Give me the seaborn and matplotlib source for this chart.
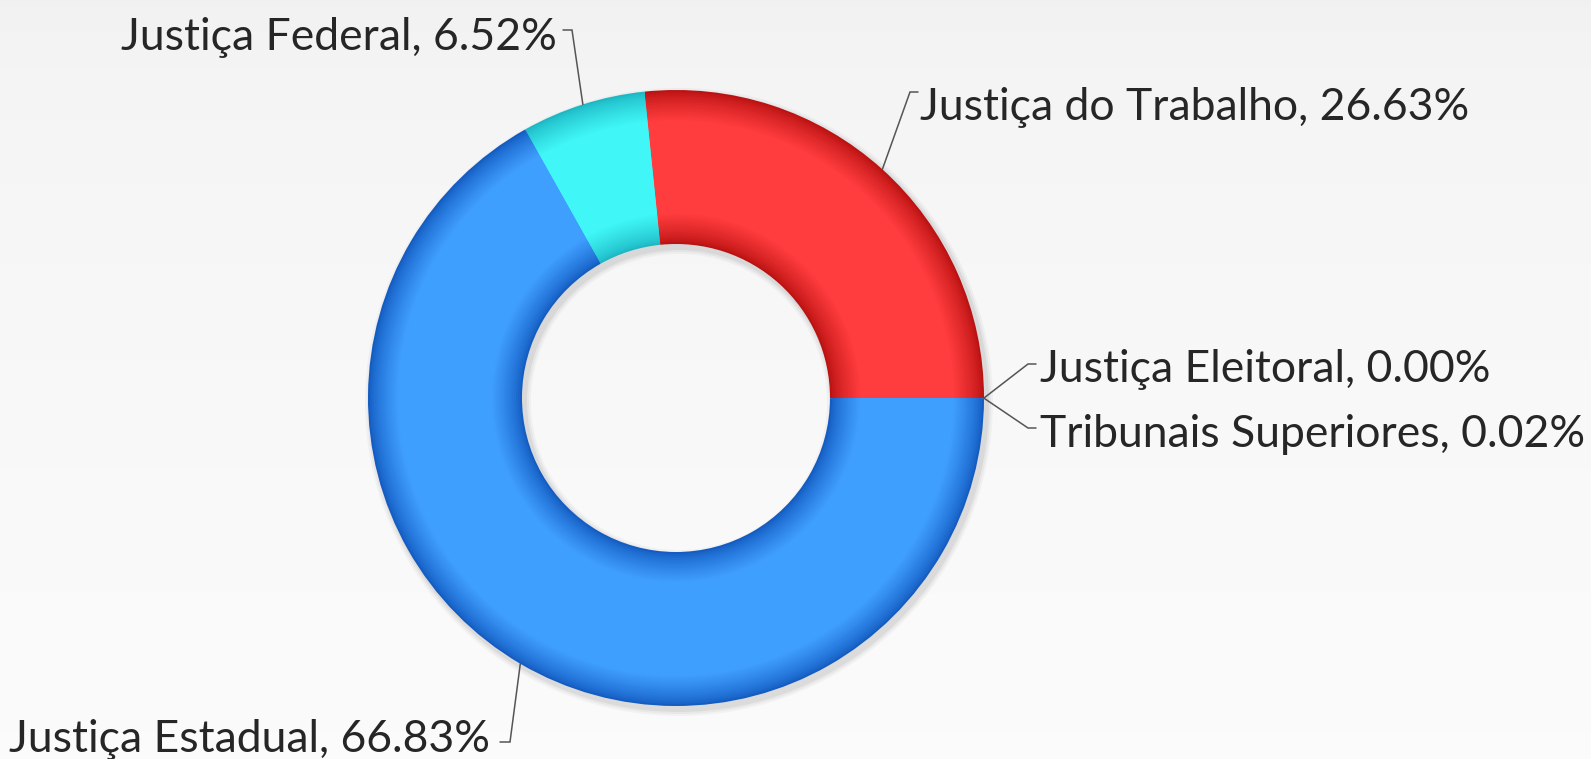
import numpy as np
import seaborn as sns
import matplotlib
matplotlib.use("Agg")
import matplotlib.pyplot as plt
from matplotlib.colors import to_rgb

sns.set_theme(style="white")
plt.rcParams['font.family'] = ['Lato', 'DejaVu Sans']

# data (shares in %, counter-clockwise from 3 o'clock)
labels = ["Justiça Eleitoral", "Justiça do Trabalho", "Justiça Federal",
          "Justiça Estadual", "Tribunais Superiores"]
shares = [0.00, 26.63, 6.52, 66.83, 0.02]

# style
light = ["#8a8a8a", "#ff3c3e", "#40f6f6", "#3f9fff", "#3f9fff"]
dark = ["#5a5a5a", "#bb1212", "#1db8c4", "#145cc2", "#145cc2"]

# layout, in pixels (y down)
W_PX, H_PX = 1591, 759
cx, cy = 676, 398
R_OUT, WIDTH = 308, 154

# text position, alignment, elbow of leader line, end of short tick
label_layout = [
    dict(txt=(1040, 382), ha="left", elbow=(1028, 364), tick=(1036, 364)),
    dict(txt=(920, 120), ha="left", elbow=(910, 92), tick=(918, 92)),
    dict(txt=(557, 50), ha="right", elbow=(572, 30), tick=(563, 30)),
    dict(txt=(490, 752), ha="right", elbow=(510, 742), tick=(500, 742)),
    dict(txt=(1040, 447), ha="left", elbow=(1028, 428), tick=(1036, 428)),
]


def mix(c1, c2, t):
    a, b = np.array(to_rgb(c1)), np.array(to_rgb(c2))
    return tuple(a + (b - a) * t)


fig = plt.figure(figsize=(W_PX / 100, H_PX / 100), dpi=100)
ax = fig.add_axes([0, 0, 1, 1])

# soft background gradient
grad = np.linspace(0, 1, 256)[:, None]
bg = np.dstack([0.945 + 0.04 * np.sqrt(grad)] * 3)
ax.imshow(bg, extent=[0, W_PX, H_PX, 0], aspect="auto", zorder=0)

# faint drop shadow
for k, a in enumerate([0.05, 0.04, 0.03]):
    ax.pie([1], colors=["#000000"], radius=R_OUT + 2 + 2 * k,
           center=(cx + 3, cy + 4),
           wedgeprops=dict(width=WIDTH + 4 + 4 * k, linewidth=0, alpha=a),
           frame=True)

# bevelled ring: stack of narrowing rings, dark at the edges, light in the middle
n = 16
wedges = None
for k in range(n):
    d = k * 2.0
    t = (k / (n - 1)) ** 0.75
    cols = [mix(dk, lt, t) for dk, lt in zip(dark, light)]
    w, _ = ax.pie(shares, colors=cols, startangle=0, counterclock=False,
                  radius=R_OUT - d, center=(cx, cy),
                  wedgeprops=dict(width=WIDTH - 2 * d, linewidth=0),
                  frame=True)
    if wedges is None:
        wedges = w

# labels with leader lines
for wd, name, val, lay in zip(wedges, labels, shares, label_layout):
    mid = np.deg2rad((wd.theta1 + wd.theta2) / 2)
    ax_x = cx + R_OUT * np.cos(mid)
    ax_y = cy + R_OUT * np.sin(mid)
    ex, ey = lay["elbow"]
    tx, ty = lay["tick"]
    ax.plot([ax_x, ex, tx], [ax_y, ey, ty], color="#555555", lw=1.1,
            solid_joinstyle="miter", zorder=5)
    ax.text(lay["txt"][0], lay["txt"][1], f"{name}, {val:.2f}%",
            ha=lay["ha"], va="baseline", fontsize=32, color="#262626",
            zorder=6)

ax.set_xlim(0, W_PX)
ax.set_ylim(H_PX, 0)
ax.set_aspect("equal")
ax.axis("off")

fig.savefig("out.png", dpi=100)
